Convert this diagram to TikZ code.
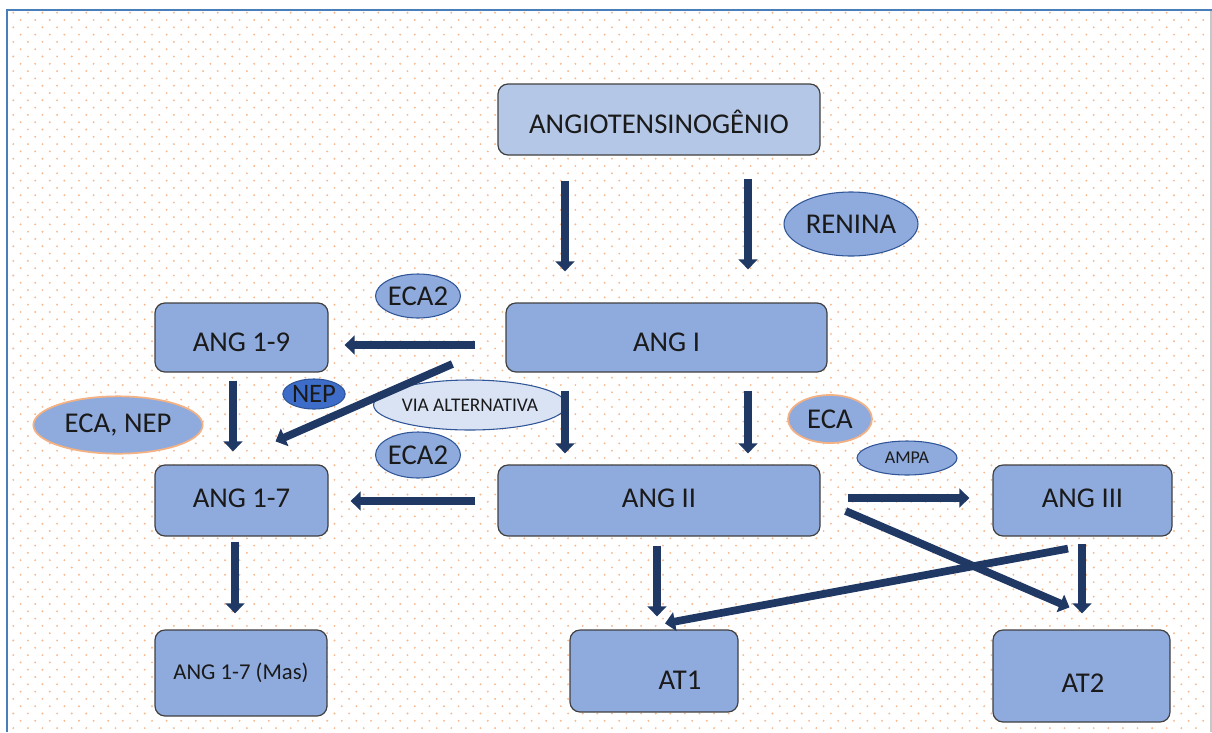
\documentclass[tikz,border=0pt]{standalone}
\usepackage{fontspec}
\setmainfont{Carlito}
\usetikzlibrary{shapes.geometric,arrows.meta,calc}
\definecolor{boxfill}{HTML}{8FAADC}
\definecolor{lightfill}{HTML}{B4C7E7}
\definecolor{viafill}{HTML}{DAE3F3}
\definecolor{nepfill}{HTML}{3D6DC8}
\definecolor{ellborder}{HTML}{2F5597}
\definecolor{orangeborder}{HTML}{F4B183}
\definecolor{arrowc}{HTML}{203864}
\definecolor{framec}{HTML}{4A7EBB}
\definecolor{dotc}{HTML}{F5BA90}
\definecolor{txt}{HTML}{1A1A1A}
\tikzset{
  box/.style={draw=black!75, line width=0.9pt, rounded corners=7.5pt, fill=boxfill,
    inner sep=0pt, text=txt, font=\fontsize{21.5}{24}\selectfont},
  lowtext/.style={text height=20.6pt, text depth=0pt},
  hightext/.style={text height=13.8pt, text depth=3.8pt},
  ell/.style={ellipse, draw=ellborder, line width=0.8pt, fill=boxfill, inner sep=0pt,
    text=txt, font=\fontsize{21.5}{24}\selectfont},
  oell/.style={ell, draw=orangeborder, line width=1.3pt},
  arr/.style={draw=arrowc, line width=5.8pt, -{Triangle[width=14pt,length=7.5pt]}},
  lbl/.style={text=txt, font=\fontsize{21.5}{24}\selectfont, inner sep=0pt}
}
\begin{document}
\begin{tikzpicture}[x=0.75pt,y=-0.75pt]
\useasboundingbox (0,0) rectangle (1212,732);
% dotted background
\foreach \i in {0,...,81}{
  \fill[dotc] \foreach \j in {0,...,49}{
    ({13.3+14.6*\i},{12.7+14.6*\j}) circle[radius=0.8pt]
    ({20.6+14.6*\i},{20+14.6*\j}) circle[radius=0.8pt]};
}
% frame
\draw[black!22, line width=1.2pt] (1211,10) -- (1211,732);
\draw[framec, line width=1.6pt] (7,732) -- (7,10) -- (1212,10);

% boxes
\node[box, lowtext, fill=lightfill, minimum width=241.5pt, minimum height=53.25pt] (angio) at (659,119.5) {ANGIOTENSINOGÊNIO};
\node[box, lowtext, minimum width=240.75pt, minimum height=51.75pt] (angI) at (666.5,337.5) {ANG I};
\node[box, lowtext, minimum width=129.75pt, minimum height=51.75pt] (ang19) at (241.5,337.5) {ANG 1-9};
\node[box, hightext, minimum width=129.75pt, minimum height=53.25pt] (ang17) at (241.5,500.5) {ANG 1-7};
\node[box, hightext, minimum width=241.5pt, minimum height=53.25pt] (angII) at (659,500.5) {ANG II};
\node[box, hightext, minimum width=134.25pt, minimum height=53.25pt] (angIII) at (1082.5,500.5) {ANG III};
\node[box, minimum width=129pt, minimum height=64.5pt, font=\fontsize{17}{20}\selectfont] (mas) at (241,673) {ANG 1-7 (Mas)};
\node[box, minimum width=126pt, minimum height=61.5pt] (at1) at (654,671) {};
\node[lbl] (at1t) at (680,680) {AT1};
\node[box, minimum width=132.75pt, minimum height=69pt] (at2) at (1081.5,676) {};
\node[lbl] (at2t) at (1083,683) {AT2};

% ellipses
\node[ell, minimum width=100.5pt, minimum height=48pt] (renina) at (851,224) {RENINA};
\node[ell, minimum width=63pt, minimum height=33pt] (eca2a) at (418,296) {ECA2};
\node[ell, minimum width=63pt, minimum height=34.5pt] (eca2b) at (418,455) {ECA2};
\node[ell, fill=nepfill, minimum width=45pt, minimum height=22.5pt, font=\fontsize{20}{22}\selectfont] (nep) at (314,394) {NEP};
\node[ell, fill=viafill, minimum width=117pt, minimum height=37.5pt, font=\fontsize{14.5}{16}\selectfont] (via) at (470,405) {VIA ALTERNATIVA};
\node[oell, minimum width=127pt, minimum height=43pt] (ecanep) at (118,425) {ECA, NEP};
\node[oell, minimum width=63pt, minimum height=36pt] (eca) at (830,419) {ECA};
\node[ell, minimum width=75pt, minimum height=25.5pt, font=\fontsize{13.5}{15}\selectfont] (ampa) at (907,458) {AMPA};

% arrows
\draw[arr] ($(angio.south)+(-94,25)$) -- ($(angI.north)+(-101.5,-31)$);
\draw[arr] ($(angio.south)+(89,23)$) -- ($(angI.north)+(81.5,-33)$);
\draw[arr] ($(angI.west)+(-30,7.5)$) -- ($(ang19.east)+(16,7.5)$);
\draw[arr] ($(angI.west)+(-53,26.5)$) -- ($(ang17.north)+(34,-23)$);
\draw[arr] ($(ang19.south)+(-8.5,8)$) -- ($(ang17.north)+(-8.5,-13)$);
\draw[arr] ($(angI.south)+(-101.5,18)$) -- ($(angII.north)+(-94,-11)$);
\draw[arr] ($(angI.south)+(81.5,18)$) -- ($(angII.north)+(89,-11)$);
\draw[arr] ($(angII.west)+(-22,0.5)$) -- ($(ang17.east)+(22,0.5)$);
\draw[arr] ($(angII.east)+(27,-2.5)$) -- ($(angIII.west)+(-23,-2.5)$);
\draw[arr] ($(angII.east)+(25,10.5)$) -- ($(at2.north)+(-12,-22)$);
\draw[arr] ($(angIII.south)+(-14.5,12)$) -- ($(at1.north)+(11,-6)$);
\draw[arr] ($(angIII.south)+(-0.5,7)$) -- ($(at2.north)+(0.5,-16)$);
\draw[arr] ($(angII.south)+(-2,9)$) -- ($(at1.north)+(3,-13)$);
\draw[arr] ($(ang17.south)+(-6.5,5)$) -- ($(mas.north)+(-6,-16)$);
\end{tikzpicture}
\end{document}
